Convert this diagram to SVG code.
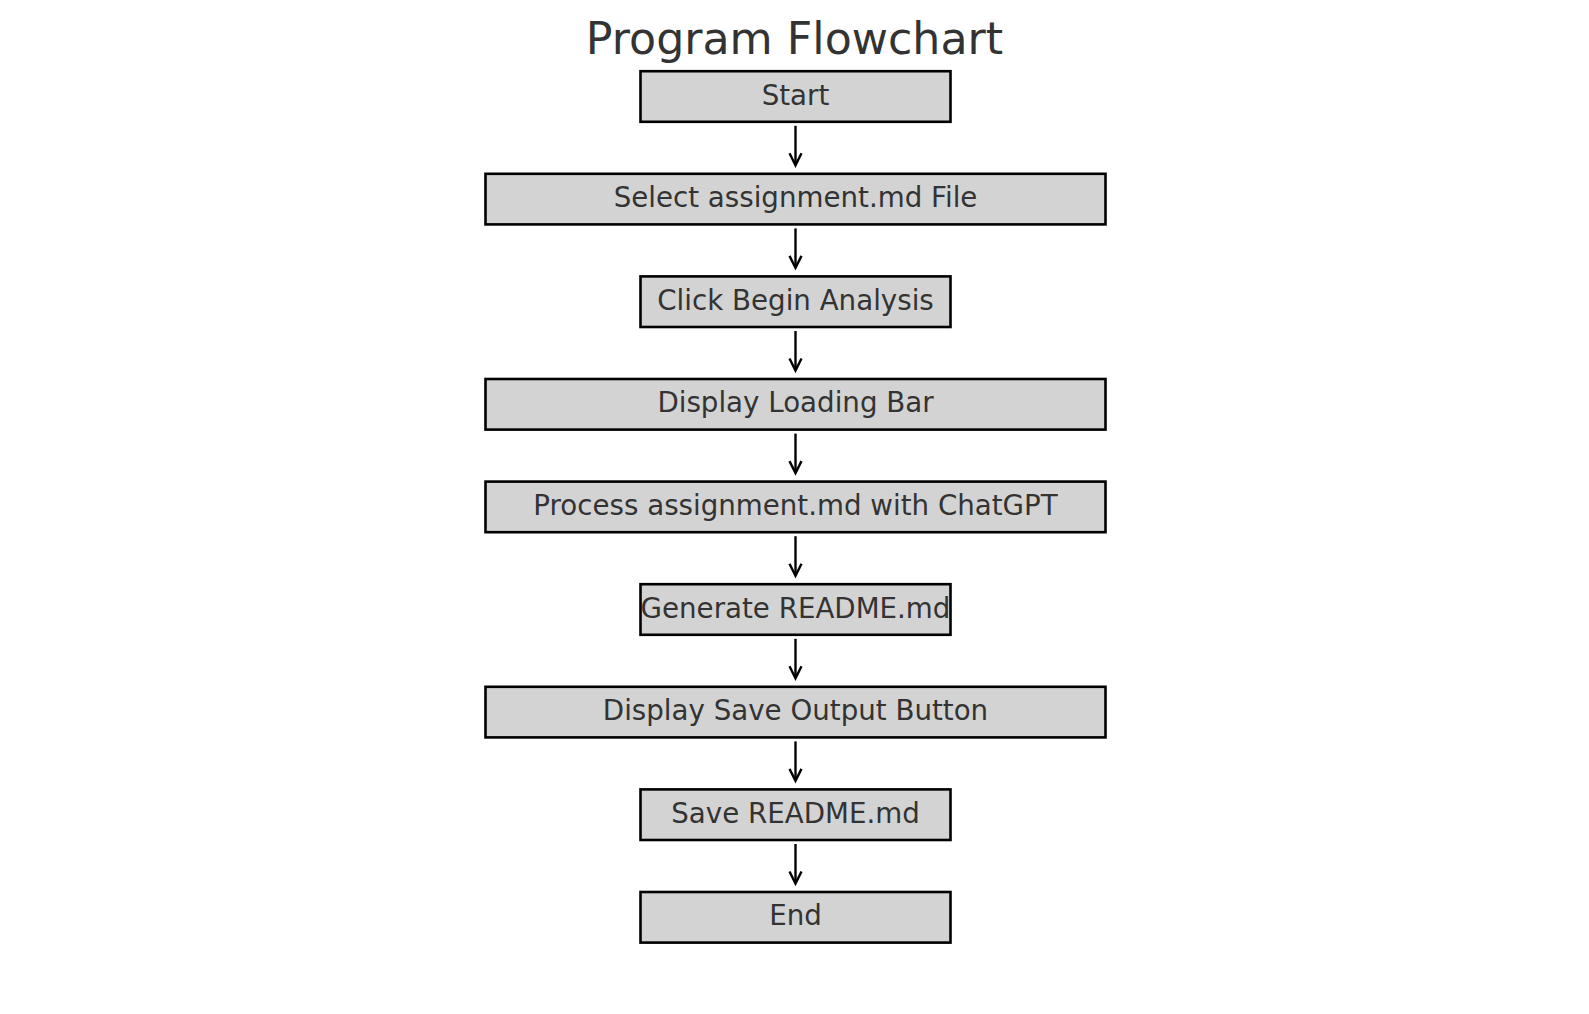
<svg xmlns="http://www.w3.org/2000/svg" width="1589" height="1014" viewBox="0 0 1589 1014">
<style>
.box{fill:#d3d3d3;stroke:#000;stroke-width:2.6}
.lbl{font-family:"DejaVu Sans",sans-serif;font-size:27.7px;fill:#333333;text-anchor:middle}
.title{font-family:"DejaVu Sans",sans-serif;font-size:44.3px;fill:#333333;text-anchor:middle}
.conn line{stroke:#000;stroke-width:2.4}
.conn path{fill:none;stroke:#000;stroke-width:2.4;stroke-linejoin:miter}
</style>
<rect width="1589" height="1014" fill="#fff"/>
<text class="title" x="794.5" y="54.3">Program Flowchart</text>
<g id="connectors" class="conn">
<line x1="795.5" y1="125.8" x2="795.5" y2="164.3"/><path d="M789.5,153.3 L795.5,165.3 L801.5,153.3"/>
<line x1="795.5" y1="228.4" x2="795.5" y2="266.9"/><path d="M789.5,255.9 L795.5,267.9 L801.5,255.9"/>
<line x1="795.5" y1="331" x2="795.5" y2="369.5"/><path d="M789.5,358.5 L795.5,370.5 L801.5,358.5"/>
<line x1="795.5" y1="433.6" x2="795.5" y2="472.1"/><path d="M789.5,461.1 L795.5,473.1 L801.5,461.1"/>
<line x1="795.5" y1="536.2" x2="795.5" y2="574.7"/><path d="M789.5,563.7 L795.5,575.7 L801.5,563.7"/>
<line x1="795.5" y1="638.8" x2="795.5" y2="677.3"/><path d="M789.5,666.3 L795.5,678.3 L801.5,666.3"/>
<line x1="795.5" y1="741.4" x2="795.5" y2="779.9"/><path d="M789.5,768.9 L795.5,780.9 L801.5,768.9"/>
<line x1="795.5" y1="844" x2="795.5" y2="882.5"/><path d="M789.5,871.5 L795.5,883.5 L801.5,871.5"/>
</g>
<g id="start"><rect class="box" x="640.5" y="71.2" width="310" height="50.6"/><text class="lbl" x="795.5" y="104.5">Start</text></g>
<g id="select"><rect class="box" x="485.5" y="173.8" width="620" height="50.6"/><text class="lbl" x="795.5" y="207.1">Select assignment.md File</text></g>
<g id="click"><rect class="box" x="640.5" y="276.4" width="310" height="50.6"/><text class="lbl" x="795.5" y="309.7">Click Begin Analysis</text></g>
<g id="loading"><rect class="box" x="485.5" y="379" width="620" height="50.6"/><text class="lbl" x="795.5" y="412.3">Display Loading Bar</text></g>
<g id="process"><rect class="box" x="485.5" y="481.6" width="620" height="50.6"/><text class="lbl" x="795.5" y="514.9">Process assignment.md with ChatGPT</text></g>
<g id="generate"><rect class="box" x="640.5" y="584.2" width="310" height="50.6"/><text class="lbl" x="795.5" y="617.5">Generate README.md</text></g>
<g id="savebutton"><rect class="box" x="485.5" y="686.8" width="620" height="50.6"/><text class="lbl" x="795.5" y="720.1">Display Save Output Button</text></g>
<g id="save"><rect class="box" x="640.5" y="789.4" width="310" height="50.6"/><text class="lbl" x="795.5" y="822.7">Save README.md</text></g>
<g id="end"><rect class="box" x="640.5" y="892" width="310" height="50.6"/><text class="lbl" x="795.5" y="925.3">End</text></g>
</svg>
